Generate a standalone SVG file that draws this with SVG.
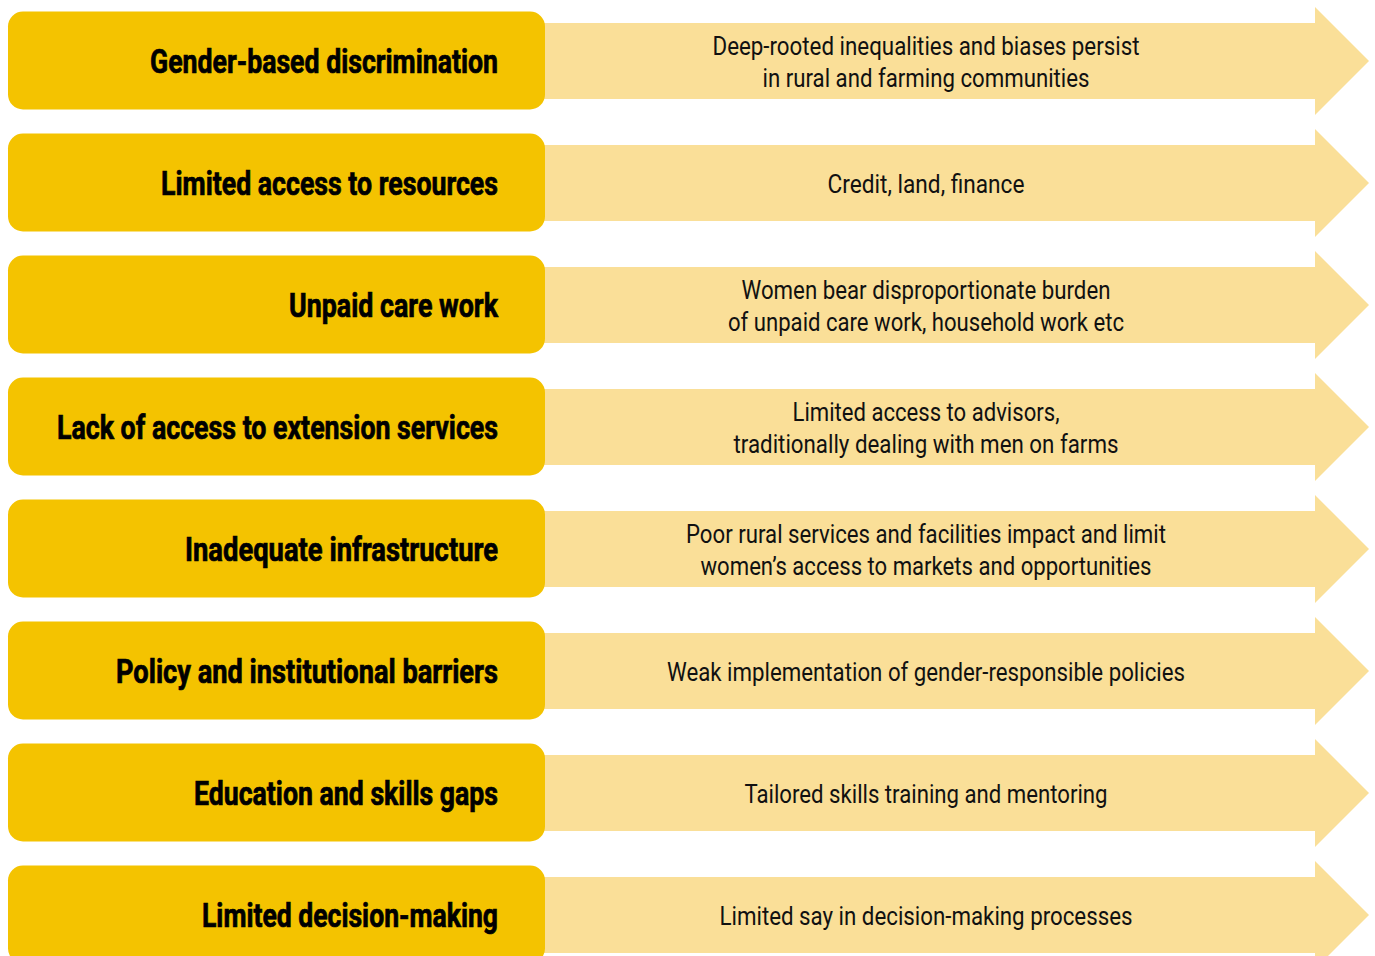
<svg xmlns="http://www.w3.org/2000/svg" xmlns:xlink="http://www.w3.org/1999/xlink" width="1375" height="956" viewBox="0 0 1375 956">
  <style>
    .box { fill: #F4C300; }
    .band { fill: #FADF98; }
    .title { font-family: Roboto, "Liberation Sans", sans-serif; font-weight: 700; font-size: 33px; fill: #000; stroke: #000; stroke-width: 0.7px; text-anchor: end; }
    .desc { font-family: Roboto, "Liberation Sans", sans-serif; font-weight: 400; font-size: 25px; fill: #111; text-anchor: middle; }
  </style>
  <defs>
    <!-- one row: wide arrow band behind a rounded label box -->
    <g id="row-shape">
      <polygon class="band" points="530,23 1315,23 1315,7 1369,61 1315,115 1315,99 530,99"/>
      <rect class="box" x="8" y="11.5" width="537" height="98" rx="15" ry="15"/>
    </g>
  </defs>
  <rect width="1375" height="956" fill="#ffffff"/>

  <g id="row1">
    <use xlink:href="#row-shape"/>
    <text class="title" x="498" y="73" textLength="348" lengthAdjust="spacingAndGlyphs">Gender-based discrimination</text>
    <text class="desc" x="926" y="55" textLength="427" lengthAdjust="spacingAndGlyphs">Deep-rooted inequalities and biases persist</text>
    <text class="desc" x="926" y="87" textLength="327" lengthAdjust="spacingAndGlyphs">in rural and farming communities</text>
  </g>

  <g id="row2" transform="translate(0,122)">
    <use xlink:href="#row-shape"/>
    <text class="title" x="498" y="73" textLength="337" lengthAdjust="spacingAndGlyphs">Limited access to resources</text>
    <text class="desc" x="926" y="71" textLength="197" lengthAdjust="spacingAndGlyphs">Credit, land, finance</text>
  </g>

  <g id="row3" transform="translate(0,244)">
    <use xlink:href="#row-shape"/>
    <text class="title" x="498" y="73" textLength="209" lengthAdjust="spacingAndGlyphs">Unpaid care work</text>
    <text class="desc" x="926" y="55" textLength="369" lengthAdjust="spacingAndGlyphs">Women bear disproportionate burden</text>
    <text class="desc" x="926" y="87" textLength="396" lengthAdjust="spacingAndGlyphs">of unpaid care work, household work etc</text>
  </g>

  <g id="row4" transform="translate(0,366)">
    <use xlink:href="#row-shape"/>
    <text class="title" x="498" y="73" textLength="441" lengthAdjust="spacingAndGlyphs">Lack of access to extension services</text>
    <text class="desc" x="926" y="55" textLength="267" lengthAdjust="spacingAndGlyphs">Limited access to advisors,</text>
    <text class="desc" x="926" y="87" textLength="385" lengthAdjust="spacingAndGlyphs">traditionally dealing with men on farms</text>
  </g>

  <g id="row5" transform="translate(0,488)">
    <use xlink:href="#row-shape"/>
    <text class="title" x="498" y="73" textLength="313" lengthAdjust="spacingAndGlyphs">Inadequate infrastructure</text>
    <text class="desc" x="926" y="55" textLength="480" lengthAdjust="spacingAndGlyphs">Poor rural services and facilities impact and limit</text>
    <text class="desc" x="926" y="87" textLength="451" lengthAdjust="spacingAndGlyphs">women’s access to markets and opportunities</text>
  </g>

  <g id="row6" transform="translate(0,610)">
    <use xlink:href="#row-shape"/>
    <text class="title" x="498" y="73" textLength="382" lengthAdjust="spacingAndGlyphs">Policy and institutional barriers</text>
    <text class="desc" x="926" y="71" textLength="518" lengthAdjust="spacingAndGlyphs">Weak implementation of gender-responsible policies</text>
  </g>

  <g id="row7" transform="translate(0,732)">
    <use xlink:href="#row-shape"/>
    <text class="title" x="498" y="73" textLength="304" lengthAdjust="spacingAndGlyphs">Education and skills gaps</text>
    <text class="desc" x="926" y="71" textLength="363" lengthAdjust="spacingAndGlyphs">Tailored skills training and mentoring</text>
  </g>

  <g id="row8" transform="translate(0,854)">
    <use xlink:href="#row-shape"/>
    <text class="title" x="498" y="73" textLength="296" lengthAdjust="spacingAndGlyphs">Limited decision-making</text>
    <text class="desc" x="926" y="71" textLength="413" lengthAdjust="spacingAndGlyphs">Limited say in decision-making processes</text>
  </g>
</svg>
